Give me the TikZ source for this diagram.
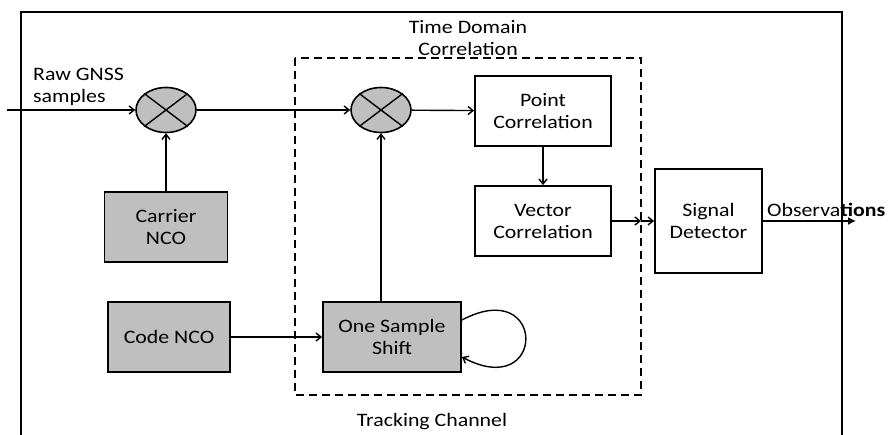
\documentclass[tikz,border=0pt]{standalone}
\usepackage{fontspec}
\setmainfont[FakeStretch=1.15]{Carlito}
\usetikzlibrary{shapes.geometric,arrows.meta}
\definecolor{boxgray}{RGB}{191,191,191}

\tikzset{
	blk/.style={draw, line width=1.8pt, minimum width=136pt, minimum height=70pt, align=center, inner sep=2pt},
	grayblk/.style={blk, fill=boxgray},
	mixer/.style={draw, ellipse, line width=1.6pt, fill=boxgray, minimum width=60pt, minimum height=45pt, inner sep=0pt},
	arc/.style={line width=1.4pt, -{Straight Barb[length=5pt,width=8pt]}},
	lbl/.style={align=center, inner sep=0pt},
}

\begin{document}
\begin{tikzpicture}[x=1pt, y=-1pt, font=\fontsize{19}{22}\selectfont]
\useasboundingbox (0,0) rectangle (890,435);

% FRAMES
\draw[line width=1.6pt] (21,435) -- (21,12) -- (842,12) -- (842,435);
\draw[line width=2pt, dash pattern=on 8pt off 5pt] (295,58) rectangle (641,395);

% NODES
\coordinate(in) at(7,110);
\node[mixer](m1) at(166,110) {};
\node[mixer](m2) at(381,110) {};
\foreach \m in{m1,m2}{
	\draw[line width=1.4pt] (\m.north west) -- (\m.south east);
	\draw[line width=1.4pt] (\m.north east) -- (\m.south west);
}

\node[grayblk, minimum width=123pt](car) at(166,227) {Carrier\\NCO};
\node[grayblk, minimum width=122pt](code) at(169,337) {Code NCO};
\node[grayblk, minimum width=138pt](oss) at(392,337) {One Sample\\Shift};

\node[blk](pc) at(543,111) {Point\\Correlation};
\node[blk](vc) at(543,221) {Vector\\Correlation};
\node[blk, minimum width=107pt, minimum height=104pt](sd) at(708.5,221) {Signal\\Detector};
\coordinate(vd) at(641,221);
\coordinate(out) at(856,221);

% LABELS
\node[lbl, anchor=west, align=left](raw) at(33,87) {Raw GNSS\\samples};
\node[lbl](tdc) at(468,38) {Time Domain\\Correlation};
\node[lbl](tc) at(432,422) {Tracking Channel};
\node[lbl, anchor=south west](obs) at(767,217) {Observa\textbf{tions}};

% ARCS
\draw[arc] (in) -- (m1);
\draw[arc] (m1) -- (m2);
\draw[arc] (m2) -- (pc);
\draw[arc] (car) -- (m1);
\draw[arc] (oss.north -| m2) -- (m2);
\draw[arc] (code) -- (oss);
\draw[arc] (pc) -- (vc);
\draw[arc] (vc) -- (vd);
\draw[arc] (vd) -- (sd);
\draw[line width=1.4pt, -{Latex[length=8pt,width=8pt]}] (sd) -- (out);
\draw[arc] ([yshift=17pt]oss.east) .. controls +(85,-45) and +(85,45) .. ([yshift=-20pt]oss.east);

\end{tikzpicture}
\end{document}
